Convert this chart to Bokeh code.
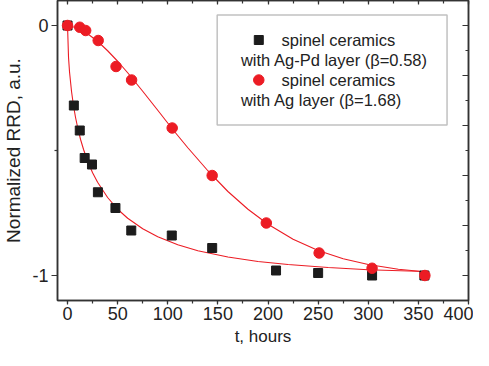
from bokeh.plotting import figure
from bokeh.models import (LinearAxis, SingleIntervalTicker, FixedTicker, Label,
                          BoxAnnotation, Range1d, CustomJSTickFormatter)
from bokeh.embed import file_html
from bokeh.resources import INLINE

# ---------------- data ----------------
t_agpd = [0, 6.3, 12.2, 17.1, 24.4, 30.3, 47.8, 63.6, 104, 144.3, 208, 250, 303.8, 356]
y_agpd = [0, -0.32, -0.42, -0.53, -0.556, -0.667, -0.73, -0.82, -0.84, -0.89, -0.98, -0.99, -1.0, -1.0]

t_ag = [0, 12.2, 18.1, 30.6, 48.4, 63.9, 104.4, 144.3, 198.3, 251, 303.8, 356.5]
y_ag = [0, -0.007, -0.02, -0.06, -0.164, -0.218, -0.41, -0.6, -0.79, -0.91, -0.971, -1.0]

# fitted curves
fit_t_agpd = [0, 1, 2, 4, 6, 8, 10, 13, 16, 20, 25, 30, 40, 50, 60, 75, 90, 110, 130,
              160, 190, 220, 260, 300, 356]
fit_y_agpd = [0, -0.128, -0.186, -0.264, -0.322, -0.368, -0.406, -0.456, -0.496, -0.542,
              -0.589, -0.627, -0.688, -0.735, -0.771, -0.813, -0.845, -0.877, -0.901,
              -0.926, -0.944, -0.956, -0.968, -0.977, -0.984]

fit_t_ag = [0, 10, 20, 30, 40, 50, 60, 75, 90, 105, 120, 140, 160, 180, 200, 225, 250,
            275, 300, 330, 356]
fit_y_ag = [0, -0.010, -0.033, -0.063, -0.101, -0.143, -0.189, -0.263, -0.339, -0.416,
            -0.489, -0.581, -0.664, -0.735, -0.795, -0.855, -0.900, -0.933, -0.956,
            -0.975, -0.985]

x_label = "t, hours"
y_label = "Normalized RRD, a.u."
legend_lines = ["spinel ceramics", "with Ag-Pd layer (\u03b2=0.58)",
                "spinel ceramics", "with Ag layer (\u03b2=1.68)"]

# ---------------- style ----------------
FONT = "Liberation Sans"
AX = "#333333"
RED = "#ec1c24"
BLACK = "#1c1c1c"
TXT = "#222222"

p = figure(width=473, height=350, output_backend="svg", toolbar_location=None,
           x_range=Range1d(-10, 400), y_range=Range1d(-1.1, 0.1),
           x_axis_type=None, y_axis_type=None,
           min_border_left=53, min_border_right=5, min_border_top=0, min_border_bottom=50)
p.background_fill_color = "white"
p.border_fill_color = "white"
p.outline_line_color = AX
p.outline_line_width = 1.5
p.xgrid.visible = False
p.ygrid.visible = False

blank = CustomJSTickFormatter(code="return '';")


def style_axis(ax):
    ax.axis_line_color = AX
    ax.axis_line_width = 1.5
    ax.major_tick_line_color = AX
    ax.minor_tick_line_color = AX
    ax.major_tick_line_width = 1.2
    ax.minor_tick_line_width = 1.2
    ax.major_label_text_font = FONT
    ax.major_label_text_color = TXT
    ax.axis_label_text_font = FONT
    ax.axis_label_text_color = TXT
    ax.axis_label_text_font_style = "normal"


# bottom axis
xb = LinearAxis(ticker=SingleIntervalTicker(interval=50, num_minor_ticks=2))
style_axis(xb)
xb.major_tick_out = 4
xb.major_tick_in = 0
xb.minor_tick_out = 3
xb.minor_tick_in = 0
xb.major_label_text_font_size = "18px"
xb.major_label_standoff = 2
xb.axis_label = x_label
xb.axis_label_text_font_size = "17px"
xb.axis_label_standoff = 4
p.add_layout(xb, "below")

# top axis (ticks only, inward)
xt = LinearAxis(ticker=SingleIntervalTicker(interval=50, num_minor_ticks=2), formatter=blank)
style_axis(xt)
xt.major_tick_out = 0
xt.major_tick_in = 4
xt.minor_tick_out = 0
xt.minor_tick_in = 3
xt.major_label_standoff = 0
xt.major_label_text_font_size = "1px"
p.add_layout(xt, "above")

# left axis
yl = LinearAxis(ticker=FixedTicker(ticks=[-1, 0], minor_ticks=[-0.5]))
style_axis(yl)
yl.major_tick_out = 6
yl.major_tick_in = 0
yl.minor_tick_out = 3
yl.minor_tick_in = 0
yl.major_label_text_font_size = "18px"
yl.major_label_standoff = 3
yl.major_label_overrides = {-1: "-1", 0: "0"}
yl.axis_label = y_label
yl.axis_label_text_font_size = "19px"
yl.axis_label_standoff = 5
p.add_layout(yl, "left")

# right axis (ticks only, inward)
yr = LinearAxis(ticker=SingleIntervalTicker(interval=0.2, num_minor_ticks=2), formatter=blank)
style_axis(yr)
yr.major_tick_out = 0
yr.major_tick_in = 6
yr.minor_tick_out = 0
yr.minor_tick_in = 3
yr.major_label_standoff = 0
yr.major_label_text_font_size = "1px"
p.add_layout(yr, "right")

# fitted curves
p.line(fit_t_agpd, fit_y_agpd, line_color=RED, line_width=1.1)
p.line(fit_t_ag, fit_y_ag, line_color=RED, line_width=1.1)

# data
p.scatter(t_agpd, y_agpd, marker="square", size=9, fill_color=BLACK, line_color=BLACK)
p.scatter(t_ag, y_ag, marker="circle", size=10.5, fill_color=RED, line_color=RED)

# legend (drawn manually to match the two-line Origin-style legend)
LEG_BOX = dict(left=149.3, right=378.6, top=0.042, bottom=-0.398)
LEG_KEY_X = 190.8
LEG_TXT_X1 = 213.5
LEG_TXT_X2 = 173.0
LEG_ROWS = [-0.058, -0.136, -0.218, -0.296]

p.add_layout(BoxAnnotation(fill_alpha=0, line_color=AX, line_width=1.5, **LEG_BOX))
p.scatter([LEG_KEY_X], [LEG_ROWS[0]], marker="square", size=9, fill_color=BLACK,
          line_color=BLACK)
p.scatter([LEG_KEY_X], [LEG_ROWS[2]], marker="circle", size=10.5, fill_color=RED,
          line_color=RED)
for i, txt in enumerate(legend_lines):
    p.add_layout(Label(x=LEG_TXT_X1 if i % 2 == 0 else LEG_TXT_X2, y=LEG_ROWS[i],
                       text=txt, text_font=FONT, text_font_size="16.5px",
                       text_baseline="middle", text_align="left", text_color=TXT))

open("out.html", "w").write(file_html(p, INLINE))
